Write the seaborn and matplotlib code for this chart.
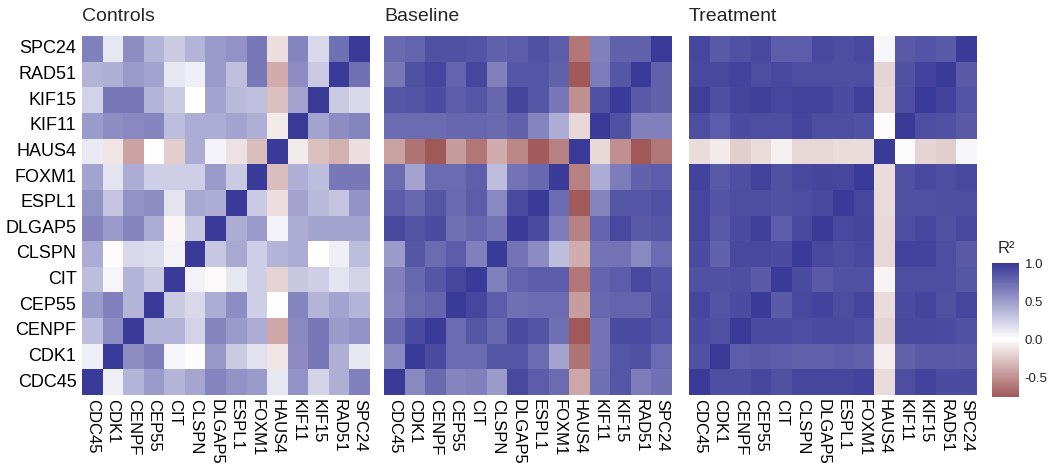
import numpy as np
import pandas as pd
import matplotlib
matplotlib.use("Agg")
import matplotlib.pyplot as plt
import seaborn as sns
from matplotlib.colors import LinearSegmentedColormap, ListedColormap

sns.set_style("white")
plt.rcParams['font.family'] = ['Liberation Sans', 'DejaVu Sans']
plt.rcParams['axes.unicode_minus'] = False

# gene order on the x axis (left to right); y axis shows the same genes bottom to top
genes = ["CDC45", "CDK1", "CENPF", "CEP55", "CIT", "CLSPN", "DLGAP5",
         "ESPL1", "FOXM1", "HAUS4", "KIF11", "KIF15", "RAD51", "SPC24"]

# R^2 matrices, rows and columns both in gene order
controls = [
    [1, 0.08, 0.38, 0.5, 0.38, 0.45, 0.62, 0.55, 0.5, 0.12, 0.55, 0.22, 0.4, 0.64],
    [0.08, 1, 0.57, 0.65, 0.05, -0.02, 0.52, 0.27, 0.15, -0.12, 0.58, 0.68, 0.4, 0.12],
    [0.33, 0.57, 1, 0.38, 0.38, 0.22, 0.62, 0.5, 0.42, -0.4, 0.6, 0.68, 0.5, 0.55],
    [0.5, 0.64, 0.38, 1, 0.27, 0.2, 0.42, 0.57, 0.25, -0.01, 0.62, 0.38, 0.46, 0.38],
    [0.33, 0.05, 0.38, 0.27, 1, 0.07, -0.03, 0.12, 0.25, -0.2, 0.28, 0.25, 0.14, 0.22],
    [0.42, -0.02, 0.2, 0.18, 0.07, 1, 0.28, 0.44, 0.25, 0.38, 0.42, 0.0, 0.08, 0.33],
    [0.62, 0.5, 0.62, 0.42, -0.04, 0.28, 1, 0.42, 0.5, 0.06, 0.42, 0.46, 0.46, 0.46],
    [0.55, 0.3, 0.55, 0.57, 0.14, 0.44, 0.42, 1, 0.27, -0.15, 0.46, 0.36, 0.3, 0.55],
    [0.46, 0.14, 0.42, 0.25, 0.25, 0.25, 0.5, 0.27, 1, -0.3, 0.4, 0.33, 0.68, 0.68],
    [0.1, -0.12, -0.42, 0.0, -0.22, 0.42, 0.06, -0.14, -0.3, 1, -0.1, -0.28, -0.35, -0.15],
    [0.5, 0.57, 0.6, 0.62, 0.33, 0.42, 0.42, 0.46, 0.4, -0.1, 1, 0.46, 0.57, 0.62],
    [0.22, 0.68, 0.68, 0.38, 0.27, 0.0, 0.46, 0.36, 0.32, -0.28, 0.46, 1, 0.27, 0.2],
    [0.38, 0.4, 0.5, 0.46, 0.12, 0.08, 0.5, 0.32, 0.68, -0.38, 0.57, 0.27, 1, 0.72],
    [0.64, 0.12, 0.57, 0.38, 0.27, 0.38, 0.5, 0.55, 0.68, -0.15, 0.62, 0.2, 0.72, 1],
]

baseline = [
    [1, 0.6, 0.75, 0.62, 0.64, 0.5, 0.92, 0.82, 0.74, -0.4, 0.72, 0.85, 0.66, 0.72],
    [0.6, 1, 0.91, 0.74, 0.74, 0.85, 0.85, 0.74, 0.46, -0.63, 0.7, 0.85, 0.88, 0.74],
    [0.75, 0.91, 1, 0.74, 0.85, 0.76, 0.91, 0.86, 0.72, -0.78, 0.7, 0.91, 0.91, 0.86],
    [0.62, 0.74, 0.78, 1, 0.93, 0.82, 0.72, 0.74, 0.74, -0.45, 0.76, 0.78, 0.78, 0.88],
    [0.64, 0.76, 0.85, 0.93, 1, 0.64, 0.78, 0.82, 0.82, -0.62, 0.78, 0.82, 0.92, 0.86],
    [0.5, 0.85, 0.74, 0.82, 0.64, 1, 0.7, 0.58, 0.33, -0.38, 0.7, 0.7, 0.6, 0.74],
    [0.92, 0.86, 0.91, 0.72, 0.77, 0.7, 1, 0.91, 0.66, -0.57, 0.78, 0.92, 0.84, 0.85],
    [0.82, 0.76, 0.85, 0.75, 0.82, 0.6, 0.91, 1, 0.74, -0.74, 0.62, 0.85, 0.85, 0.88],
    [0.74, 0.46, 0.74, 0.74, 0.81, 0.33, 0.7, 0.76, 1, -0.57, 0.42, 0.66, 0.8, 0.82],
    [-0.43, -0.63, -0.78, -0.45, -0.62, -0.38, -0.55, -0.74, -0.57, 1, -0.17, -0.5, -0.77, -0.62],
    [0.74, 0.74, 0.74, 0.77, 0.77, 0.75, 0.8, 0.62, 0.42, -0.17, 1, 0.88, 0.64, 0.64],
    [0.85, 0.86, 0.91, 0.82, 0.85, 0.77, 0.94, 0.85, 0.68, -0.5, 0.88, 1, 0.84, 0.8],
    [0.68, 0.88, 0.93, 0.78, 0.93, 0.64, 0.85, 0.85, 0.8, -0.78, 0.66, 0.85, 1, 0.8],
    [0.75, 0.78, 0.87, 0.88, 0.86, 0.8, 0.82, 0.88, 0.82, -0.62, 0.64, 0.8, 0.8, 1],
]

treatment = [
    [1, 0.89, 0.89, 0.93, 0.87, 0.93, 0.93, 0.93, 0.95, -0.16, 0.9, 0.95, 0.91, 0.91],
    [0.87, 1, 0.82, 0.83, 0.82, 0.8, 0.8, 0.82, 0.8, -0.08, 0.8, 0.84, 0.84, 0.83],
    [0.91, 0.87, 1, 0.91, 0.91, 0.9, 0.91, 0.91, 0.89, -0.2, 0.92, 0.92, 0.91, 0.87],
    [0.93, 0.86, 0.91, 1, 0.83, 0.92, 0.95, 0.9, 0.94, -0.16, 0.91, 0.94, 0.88, 0.93],
    [0.88, 0.88, 0.89, 0.83, 1, 0.91, 0.84, 0.88, 0.87, -0.05, 0.9, 0.9, 0.9, 0.85],
    [0.91, 0.8, 0.92, 0.92, 0.91, 1, 0.92, 0.9, 0.92, -0.18, 0.95, 0.95, 0.9, 0.84],
    [0.93, 0.84, 0.91, 0.96, 0.82, 0.92, 1, 0.92, 0.94, -0.18, 0.9, 0.93, 0.88, 0.92],
    [0.93, 0.86, 0.9, 0.9, 0.88, 0.9, 0.92, 1, 0.93, -0.16, 0.88, 0.88, 0.9, 0.9],
    [0.95, 0.84, 0.89, 0.95, 0.88, 0.92, 0.94, 0.93, 1, -0.16, 0.88, 0.92, 0.9, 0.92],
    [-0.16, -0.1, -0.22, -0.16, -0.06, -0.18, -0.18, -0.16, -0.16, 1, -0.02, -0.2, -0.22, 0.04],
    [0.9, 0.82, 0.91, 0.9, 0.9, 0.94, 0.9, 0.9, 0.88, -0.02, 1, 0.9, 0.87, 0.84],
    [0.97, 0.89, 0.94, 0.96, 0.93, 0.95, 0.95, 0.91, 0.96, -0.18, 0.9, 1, 0.95, 0.86],
    [0.92, 0.92, 0.95, 0.9, 0.92, 0.9, 0.9, 0.9, 0.9, -0.2, 0.87, 0.95, 1, 0.83],
    [0.93, 0.84, 0.87, 0.92, 0.82, 0.82, 0.92, 0.9, 0.92, 0.04, 0.84, 0.86, 0.83, 1],
]

panels = [("Controls", controls), ("Baseline", baseline), ("Treatment", treatment)]
cbar_ticks = [-0.5, 0.0, 0.5, 1.0]
vmin, vmax = -0.76, 1.0

# diverging scale, white at 0, same slope on both sides (like gradient2)
full = LinearSegmentedColormap.from_list("r2", ["#832424", "#ffffff", "#3a3a98"])
cmap = ListedColormap(full((np.linspace(vmin, vmax, 256) + 1) / 2))

W, H = 1050, 466
fig = plt.figure(figsize=(W / 100, H / 100), dpi=100)
lefts = [82, 384, 689]
cax = fig.add_axes([992 / W, 1 - 397 / H, 27 / W, 134 / H])

for i, (name, mat) in enumerate(panels):
    df = pd.DataFrame(mat, index=genes, columns=genes).iloc[::-1]
    ax = fig.add_axes([lefts[i] / W, 1 - 395 / H, 288 / W, 359 / H])
    last = i == len(panels) - 1
    sns.heatmap(df, ax=ax, cmap=cmap, vmin=vmin, vmax=vmax,
                cbar=last, cbar_ax=cax if last else None,
                cbar_kws={"ticks": cbar_ticks} if last else None,
                xticklabels=genes, yticklabels=list(df.index) if i == 0 else False)
    ax.set_xlabel("")
    ax.set_ylabel("")
    ax.set_xticklabels(genes, rotation=270, fontsize=12, color="black")
    if i == 0:
        ax.set_yticklabels(list(df.index), rotation=0, fontsize=13, color="black")
    ax.tick_params(length=0, pad=4)
    ax.tick_params(axis="x", pad=3)
    ax.set_title(name, loc="left", fontsize=14, pad=11)

cbar = fig.axes[-1].collections[0].colorbar
cbar.outline.set_visible(False)
cbar.ax.yaxis.set_ticks_position("both")
cbar.ax.tick_params(direction="in", length=4, width=1, color="white",
                    labelsize=9.5, pad=4, labelleft=False, labelright=True)
cbar.ax.set_yticklabels(["%.1f" % t for t in cbar_ticks])
fig.text(998 / W, 1 - 253 / H, "R²", fontsize=12, va="baseline")

fig.savefig("out.png", dpi=100)
